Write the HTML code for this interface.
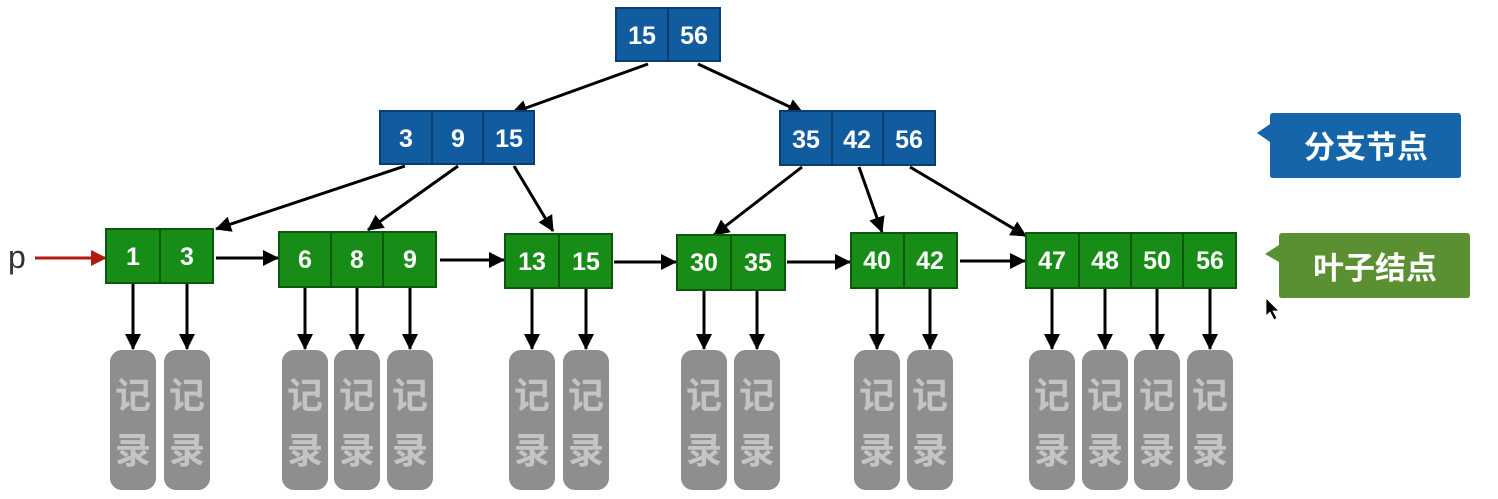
<!DOCTYPE html>
<html><head><meta charset="utf-8"><style>
html,body{margin:0;padding:0;background:#fff;width:1498px;height:499px;overflow:hidden}
text{font-family:"Liberation Sans","Noto Sans CJK SC",sans-serif}
</style></head><body>
<svg width="1498" height="499" viewBox="0 0 1498 499" xmlns="http://www.w3.org/2000/svg">
<defs>
<marker id="b" markerWidth="16" markerHeight="16" refX="15" refY="8" orient="auto" markerUnits="userSpaceOnUse" viewBox="0 0 16 16"><path d="M0,0 L16,8 L0,16z" fill="#000"/></marker>
<marker id="r" markerWidth="16" markerHeight="16" refX="15" refY="8" orient="auto" markerUnits="userSpaceOnUse" viewBox="0 0 16 16"><path d="M0,0 L16,8 L0,16z" fill="#b01a10"/></marker>
</defs>
<g stroke="#000" stroke-width="3" fill="none" marker-end="url(#b)">
<line x1="648" y1="64" x2="512" y2="113"/>
<line x1="698" y1="64" x2="803" y2="113"/>
<line x1="405" y1="166" x2="216" y2="229"/>
<line x1="458" y1="166" x2="368" y2="230"/>
<line x1="514" y1="166" x2="553" y2="231"/>
<line x1="802" y1="167" x2="714" y2="235"/>
<line x1="859" y1="167" x2="882" y2="232"/>
<line x1="910" y1="167" x2="1026" y2="236"/>
<line x1="216" y1="258" x2="278" y2="258"/>
<line x1="440" y1="260" x2="504" y2="260"/>
<line x1="614" y1="262" x2="676" y2="262"/>
<line x1="787" y1="262" x2="850" y2="262"/>
<line x1="960" y1="261" x2="1025" y2="261"/>
</g>
<line x1="35" y1="258" x2="106" y2="258" stroke="#b01a10" stroke-width="3" marker-end="url(#r)"/>
<text x="8" y="268" font-size="32" fill="#333">p</text>
<g stroke="#000" stroke-width="3" marker-end="url(#b)">
<line x1="133" y1="283" x2="133" y2="349"/><line x1="187" y1="283" x2="187" y2="349"/>
<line x1="305" y1="287" x2="305" y2="349"/><line x1="357" y1="287" x2="357" y2="349"/><line x1="410" y1="287" x2="410" y2="349"/>
<line x1="532" y1="288" x2="532" y2="349"/><line x1="586" y1="288" x2="586" y2="349"/>
<line x1="704" y1="290" x2="704" y2="349"/><line x1="757" y1="290" x2="757" y2="349"/>
<line x1="877" y1="288" x2="877" y2="349"/><line x1="930" y1="288" x2="930" y2="349"/>
<line x1="1052" y1="288" x2="1052" y2="349"/><line x1="1105" y1="288" x2="1105" y2="349"/><line x1="1157" y1="288" x2="1157" y2="349"/><line x1="1210" y1="288" x2="1210" y2="349"/>
</g>
<g fill="#115c9e" stroke="#0a3d70" stroke-width="2">
<rect x="616" y="8" width="52" height="53"/><rect x="668" y="8" width="52" height="53"/>
<rect x="380" y="111" width="52" height="53"/><rect x="432" y="111" width="51" height="53"/><rect x="483" y="111" width="51" height="53"/>
<rect x="780" y="111" width="52" height="54"/><rect x="832" y="111" width="51" height="54"/><rect x="883" y="111" width="52" height="54"/>
</g>
<g fill="#fff" font-size="25" font-weight="bold" text-anchor="middle">
<text x="642" y="44">15</text><text x="694" y="44">56</text>
<text x="406" y="147">3</text><text x="458" y="147">9</text><text x="509" y="147">15</text>
<text x="806" y="148">35</text><text x="857" y="148">42</text><text x="909" y="148">56</text>
</g>
<g fill="#178c17" stroke="#0b5a0b" stroke-width="2">
<rect x="106" y="229" width="54" height="54"/><rect x="160" y="229" width="53" height="54"/>
<rect x="279" y="232" width="52" height="55"/><rect x="331" y="232" width="52" height="55"/><rect x="383" y="232" width="53" height="55"/>
<rect x="505" y="234" width="54" height="54"/><rect x="559" y="234" width="53" height="54"/>
<rect x="677" y="235" width="54" height="55"/><rect x="731" y="235" width="54" height="55"/>
<rect x="851" y="233" width="53" height="55"/><rect x="904" y="233" width="53" height="55"/>
<rect x="1026" y="233" width="53" height="55"/><rect x="1079" y="233" width="52" height="55"/><rect x="1131" y="233" width="52" height="55"/><rect x="1183" y="233" width="53" height="55"/>
</g>
<g fill="#fff" font-size="25" font-weight="bold" text-anchor="middle">
<text x="133" y="265">1</text><text x="187" y="265">3</text>
<text x="305" y="268">6</text><text x="357" y="268">8</text><text x="410" y="268">9</text>
<text x="532" y="270">13</text><text x="586" y="270">15</text>
<text x="704" y="271">30</text><text x="758" y="271">35</text>
<text x="877" y="269">40</text><text x="930" y="269">42</text>
<text x="1052" y="269">47</text><text x="1105" y="269">48</text><text x="1157" y="269">50</text><text x="1210" y="269">56</text>
</g>
<g fill="#8e8e8e">
<rect x="110" y="350" width="46" height="140" rx="12"/><rect x="164" y="350" width="46" height="140" rx="12"/>
<rect x="282" y="350" width="46" height="140" rx="12"/><rect x="334" y="350" width="46" height="140" rx="12"/><rect x="387" y="350" width="46" height="140" rx="12"/>
<rect x="509" y="350" width="46" height="140" rx="12"/><rect x="563" y="350" width="46" height="140" rx="12"/>
<rect x="681" y="350" width="46" height="140" rx="12"/><rect x="734" y="350" width="46" height="140" rx="12"/>
<rect x="854" y="350" width="46" height="140" rx="12"/><rect x="907" y="350" width="46" height="140" rx="12"/>
<rect x="1029" y="350" width="46" height="140" rx="12"/><rect x="1082" y="350" width="46" height="140" rx="12"/><rect x="1134" y="350" width="46" height="140" rx="12"/><rect x="1187" y="350" width="46" height="140" rx="12"/>
</g>
<g fill="#c4c4c4" font-size="36" font-weight="bold" text-anchor="middle">
<text x="133" y="408">记</text><text x="133" y="463">录</text>
<text x="187" y="408">记</text><text x="187" y="463">录</text>
<text x="305" y="408">记</text><text x="305" y="463">录</text>
<text x="357" y="408">记</text><text x="357" y="463">录</text>
<text x="410" y="408">记</text><text x="410" y="463">录</text>
<text x="532" y="408">记</text><text x="532" y="463">录</text>
<text x="586" y="408">记</text><text x="586" y="463">录</text>
<text x="704" y="408">记</text><text x="704" y="463">录</text>
<text x="757" y="408">记</text><text x="757" y="463">录</text>
<text x="877" y="408">记</text><text x="877" y="463">录</text>
<text x="930" y="408">记</text><text x="930" y="463">录</text>
<text x="1052" y="408">记</text><text x="1052" y="463">录</text>
<text x="1105" y="408">记</text><text x="1105" y="463">录</text>
<text x="1157" y="408">记</text><text x="1157" y="463">录</text>
<text x="1210" y="408">记</text><text x="1210" y="463">录</text>
</g>
<path d="M1273,113 L1458,113 Q1461,113 1461,117 L1461,175 Q1461,178 1458,178 L1273,178 Q1270,178 1270,175 L1270,142 L1257,133 L1270,124 L1270,116 Q1270,113 1273,113 Z" fill="#1565a8"/>
<text x="1366" y="158" font-size="31" font-weight="bold" fill="#fff" text-anchor="middle">分支节点</text>
<path d="M1282,233 L1467,233 Q1470,233 1470,237 L1470,295 Q1470,298 1467,298 L1282,298 Q1279,298 1279,295 L1279,262 L1265,254 L1279,245 L1279,237 Q1279,233 1282,233 Z" fill="#5a8f32"/>
<text x="1375" y="279" font-size="31" font-weight="bold" fill="#fff" text-anchor="middle">叶子结点</text>
<path d="M1266,298 L1266,316 L1270,312 L1274,320 L1277,318 L1273,311 L1279,311 Z" fill="#000" stroke="#fff" stroke-width="0.8"/>
</svg>
</body></html>
